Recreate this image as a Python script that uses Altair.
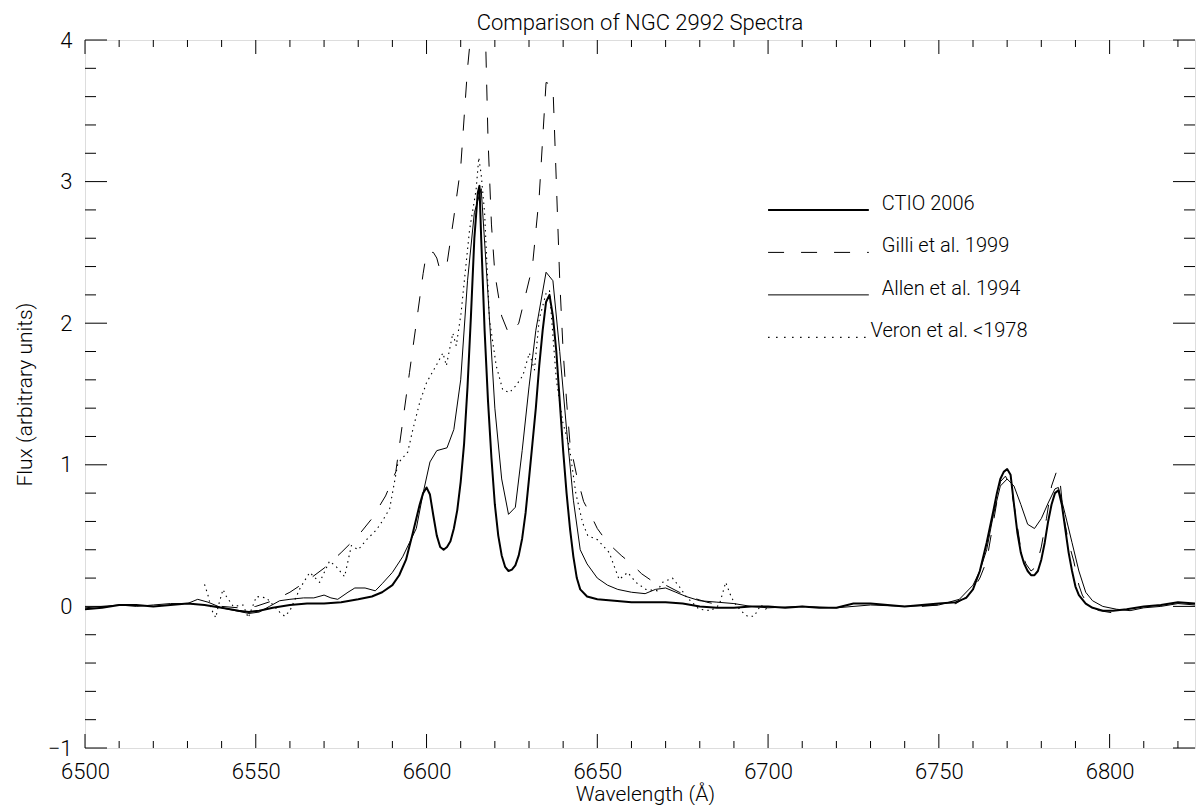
import altair as alt
import pandas as pd

# ---------------- data ----------------
ctio_wl = [6500, 6505, 6510, 6515, 6520, 6525, 6530, 6535, 6540, 6545, 6548, 6551, 6555, 6560, 6565,
           6570, 6575, 6580, 6584, 6587, 6590, 6592, 6594, 6596, 6598, 6599, 6600, 6601, 6602, 6603,
           6604, 6605, 6606, 6607, 6608, 6609, 6610, 6611, 6612, 6613, 6614, 6615, 6615.5, 6616, 6617,
           6618, 6619, 6620, 6621, 6622, 6623, 6624, 6625, 6626, 6627, 6628, 6629, 6630, 6631, 6632,
           6633, 6634, 6635, 6636, 6637, 6638, 6639, 6640, 6641, 6642, 6643, 6644, 6645, 6647, 6650,
           6655, 6660, 6665, 6670, 6675, 6680, 6685, 6690, 6695, 6700, 6705, 6710, 6715, 6720, 6725,
           6730, 6735, 6740, 6745, 6750, 6755, 6758, 6760, 6762, 6764, 6766, 6767, 6768, 6769, 6770,
           6771, 6772, 6773, 6774, 6775, 6776, 6777, 6778, 6779, 6780, 6781, 6782, 6783, 6784, 6785,
           6786, 6787, 6788, 6789, 6790, 6791, 6793, 6795, 6798, 6801, 6805, 6810, 6815, 6820, 6825]
ctio_flux = [-0.02, -0.01, 0.01, 0.01, 0.0, 0.01, 0.02, 0.01, -0.01, -0.03, -0.04, -0.03, -0.01, 0.01, 0.02,
             0.02, 0.03, 0.05, 0.07, 0.10, 0.15, 0.22, 0.33, 0.52, 0.72, 0.80, 0.84, 0.79, 0.64, 0.50,
             0.42, 0.40, 0.42, 0.46, 0.55, 0.68, 0.88, 1.15, 1.55, 2.05, 2.60, 2.92, 2.97, 2.60, 1.95,
             1.45, 1.05, 0.72, 0.50, 0.36, 0.28, 0.25, 0.26, 0.29, 0.36, 0.48, 0.66, 0.90, 1.15, 1.40,
             1.70, 1.95, 2.15, 2.20, 2.05, 1.80, 1.45, 1.10, 0.80, 0.55, 0.35, 0.20, 0.12, 0.07, 0.05,
             0.04, 0.03, 0.03, 0.03, 0.02, 0.0, -0.01, -0.01, 0.0, 0.0, -0.01, 0.0, -0.01, -0.01, 0.02,
             0.02, 0.01, 0.0, 0.01, 0.02, 0.03, 0.06, 0.12, 0.25, 0.45, 0.68, 0.80, 0.90, 0.95, 0.97,
             0.93, 0.72, 0.52, 0.38, 0.30, 0.25, 0.22, 0.22, 0.25, 0.33, 0.45, 0.60, 0.72, 0.80, 0.82,
             0.72, 0.55, 0.38, 0.25, 0.14, 0.08, 0.02, -0.01, -0.03, -0.03, -0.02, 0.0, 0.01, 0.03, 0.02]

gilli_wl = [6540, 6545, 6550, 6555, 6560, 6565, 6570, 6575, 6580, 6584, 6588, 6591, 6593, 6595, 6597,
            6599, 6600, 6602, 6603, 6604, 6606, 6608, 6610, 6612, 6614, 6617, 6618, 6619, 6620, 6622,
            6624, 6625, 6627, 6629, 6631, 6633, 6634, 6635, 6637, 6638, 6639, 6640, 6641, 6642, 6644,
            6646, 6648, 6650, 6653, 6657, 6660, 6663, 6666, 6670, 6674, 6678, 6682, 6684,
            6745, 6750, 6755, 6759, 6762, 6764, 6766, 6768, 6769.5, 6771, 6772.5, 6774, 6775.5, 6777,
            6778.5, 6780, 6781.5, 6783, 6784.5, 6785.5, 6786.5, 6788, 6789.5, 6791, 6792, 6794, 6797, 6802]
gilli_flux = [0.0, -0.01, 0.0, 0.04, 0.10, 0.18, 0.27, 0.38, 0.50, 0.62, 0.78, 0.95, 1.30, 1.65, 2.00,
              2.35, 2.50, 2.50, 2.46, 2.37, 2.42, 2.75, 3.10, 3.80, 4.30, 4.30, 3.30, 2.70, 2.35, 2.05,
              1.93, 1.93, 2.00, 2.20, 2.40, 2.90, 3.30, 3.70, 3.68, 3.00, 2.30, 1.80, 1.45, 1.15, 0.92,
              0.74, 0.65, 0.55, 0.45, 0.36, 0.30, 0.23, 0.18, 0.15, 0.10, 0.06, 0.03, 0.02,
              0.0, 0.01, 0.02, 0.08, 0.20, 0.32, 0.60, 0.88, 0.92, 0.85, 0.65, 0.40, 0.30, 0.25,
              0.28, 0.42, 0.62, 0.85, 0.955, 0.88, 0.64, 0.45, 0.32, 0.15, 0.08, 0.0, -0.03, -0.05]
gilli_seg = [1] * 58 + [2] * 28

allen_wl = [6500, 6505, 6510, 6515, 6520, 6525, 6530, 6533, 6536, 6540, 6544, 6548, 6551, 6554, 6557,
            6560, 6564, 6567, 6570, 6572, 6574, 6577, 6579, 6582, 6585, 6587, 6590, 6593, 6595, 6597,
            6599, 6601, 6603, 6606, 6608, 6610, 6612, 6614, 6616, 6618, 6620, 6622, 6624, 6626, 6628,
            6630, 6632, 6635, 6637, 6639, 6641, 6643, 6645, 6647, 6650, 6653, 6656, 6660, 6664, 6667,
            6670, 6673, 6676, 6680, 6685, 6690, 6695, 6700, 6710, 6720, 6730, 6740, 6750, 6756, 6760,
            6762, 6764, 6766, 6768, 6770, 6772, 6774, 6776, 6778, 6780, 6782, 6784, 6785, 6787, 6789,
            6791, 6793, 6795, 6798, 6802, 6806, 6810, 6815, 6820, 6825]
allen_flux = [-0.01, 0.0, 0.01, 0.0, 0.01, 0.02, 0.02, 0.05, 0.03, -0.01, -0.03, -0.05, -0.04, 0.0, 0.04,
              0.05, 0.06, 0.06, 0.08, 0.06, 0.05, 0.10, 0.13, 0.13, 0.11, 0.16, 0.24, 0.35, 0.45, 0.55,
              0.80, 1.02, 1.10, 1.12, 1.25, 1.60, 2.30, 2.78, 2.95, 2.20, 1.40, 0.90, 0.65, 0.70, 1.10,
              1.55, 1.95, 2.36, 2.30, 1.80, 1.25, 0.75, 0.40, 0.30, 0.20, 0.15, 0.12, 0.10, 0.09, 0.12,
              0.13, 0.10, 0.07, 0.04, 0.03, 0.02, 0.0, -0.01, 0.0, -0.01, 0.01, 0.0, 0.01, 0.05, 0.15,
              0.25, 0.40, 0.65, 0.85, 0.90, 0.85, 0.72, 0.58, 0.55, 0.62, 0.73, 0.83, 0.84, 0.65, 0.45,
              0.25, 0.10, 0.04, 0.0, -0.02, -0.03, -0.01, 0.0, 0.02, 0.01]

veron_wl = [6535, 6536, 6537, 6538.3, 6539, 6540.4, 6541.4, 6543.4, 6546.3, 6547.8, 6550.2, 6553.1, 6557,
            6558.5, 6560, 6563, 6565.8, 6568.7, 6571.6, 6573.6, 6576, 6578, 6580, 6582.4, 6585.3, 6587,
            6589.2, 6591.6, 6594.5, 6596, 6598, 6600, 6602.8, 6604.8, 6605.8, 6607.7, 6608.7, 6610.1,
            6612.6, 6614.5, 6615.3, 6616, 6617, 6618.4, 6620.4, 6622.3, 6624.3, 6626.2, 6628.2, 6630.1,
            6631.6, 6633, 6635, 6636, 6638, 6639.9, 6641.8, 6643.7, 6645.7, 6647.2, 6650.1, 6653.5, 6655,
            6656.4, 6658.9, 6661.3, 6664.2, 6667.6, 6669.1, 6672, 6674, 6676, 6679.8, 6683.2, 6685.7,
            6687.6, 6689, 6690, 6692, 6694, 6695.9, 6697.9, 6699.3, 6700]
veron_flux = [0.155, 0.08, -0.02, -0.08, 0.0, 0.12, 0.07, 0.0, 0.01, -0.08, 0.07, 0.06, -0.04,
              -0.07, -0.03, 0.13, 0.24, 0.17, 0.32, 0.28, 0.21, 0.43, 0.40, 0.47, 0.54, 0.60,
              0.69, 1.01, 1.09, 1.25, 1.44, 1.58, 1.70, 1.79, 1.70, 1.93, 1.84, 2.07,
              2.66, 2.94, 3.17, 3.05, 2.78, 2.03, 1.70, 1.53, 1.51, 1.56, 1.63, 1.79,
              1.67, 2.03, 2.21, 2.23, 1.60, 1.30, 1.13, 0.80, 0.59, 0.50, 0.47, 0.38, 0.28,
              0.19, 0.24, 0.17, 0.12, 0.11, 0.17, 0.20, 0.14, 0.07, -0.02, -0.03, 0.01,
              0.17, 0.08, 0.03, -0.03, -0.07, -0.07, 0.01, -0.02, 0.0]

legend_labels = ["CTIO 2006", "Gilli et al. 1999", "Allen et al. 1994", "Veron et al. <1978"]
legend_y = [2.8, 2.5, 2.2, 1.9]
legend_x1 = [6700, 6700, 6700, 6700]
legend_x2 = [6729.5, 6729.5, 6729.5, 6729.5]
legend_tx = [6733.3, 6733.3, 6733.3, 6730.0]

x_label_values = [6500, 6550, 6600, 6650, 6700, 6750, 6800]
y_label_values = [-1, 0, 1, 2, 3, 4]
x_minor_values = [v for v in range(6510, 6830, 10) if v % 50 != 0]
y_minor_values = [round(-1 + 0.2 * i, 1) for i in range(26) if i % 5 != 0]

# ---------------- layout ----------------
W, H = 1110, 708
FONT = "Roboto"
FW = 300
XS = alt.Scale(domain=[6500, 6825], nice=False, zero=False)
YS = alt.Scale(domain=[-1, 4], nice=False, zero=False)

AX = alt.Axis(
    values=x_label_values, format="d", ticks=False, tickSize=0, domain=False, grid=False,
    labelFlush=False, labelOverlap=False, labelPadding=13, labelFontSize=22, labelFont=FONT,
    labelFontWeight=FW, labelColor="black",
    title="Wavelength (Å)", titleX=560, titleY=52, titleFontSize=21, titleFont=FONT,
    titleFontWeight=FW, titleColor="black", titleBaseline="alphabetic", titleAlign="center")
AY = alt.Axis(
    values=y_label_values, ticks=False, tickSize=0, domain=False, grid=False,
    labelOverlap=False, labelPadding=13, labelFontSize=22, labelFont=FONT, labelFontWeight=FW,
    labelColor="black", labelExpr="datum.value < 0 ? '\u2212' + abs(datum.value) : datum.label",
    title="Flux (arbitrary units)", titleX=-60, titleY=H / 2, titleAngle=270,
    titleFontSize=21, titleFont=FONT, titleFontWeight=FW, titleColor="black",
    titleBaseline="middle", titleAlign="center")


def spectrum(wl, flux, width, dash=None, seg=None):
    df = pd.DataFrame({"wl": wl, "flux": flux, "seg": seg if seg is not None else [1] * len(wl)})
    kw = dict(clip=True, color="black", strokeWidth=width, strokeJoin="round")
    if dash:
        kw["strokeDash"] = dash
    return alt.Chart(df).mark_line(**kw).encode(
        x=alt.X("wl:Q", scale=XS, axis=AX),
        y=alt.Y("flux:Q", scale=YS, axis=AY),
        detail="seg:N",
    )


leg_df = pd.DataFrame({"label": legend_labels, "y": legend_y, "x1": legend_x1,
                       "x2": legend_x2, "tx": legend_tx})


def legend_sample(i, width, dash=None):
    kw = dict(color="black", strokeWidth=width)
    if dash:
        kw["strokeDash"] = dash
    return alt.Chart(leg_df.iloc[[i]]).mark_rule(**kw).encode(
        x=alt.X("x1:Q", scale=XS, axis=AX), x2="x2:Q",
        y=alt.Y("y:Q", scale=YS, axis=AY))


legend_text = alt.Chart(leg_df).mark_text(
    align="left", baseline="alphabetic", font=FONT, fontWeight=FW, fontSize=20, color="black"
).encode(x=alt.X("tx:Q", scale=XS, axis=AX), y=alt.Y("y:Q", scale=YS, axis=AY), text="label:N")


def xticks(values, length):
    df = pd.DataFrame({"v": values})
    bottom = alt.Chart(df).mark_rule(color="black", strokeWidth=1).encode(
        x=alt.X("v:Q", scale=XS, axis=AX), y=alt.value(H), y2=alt.value(H - length))
    top = alt.Chart(df).mark_rule(color="black", strokeWidth=1).encode(
        x=alt.X("v:Q", scale=XS, axis=AX), y=alt.value(0), y2=alt.value(length))
    return [bottom, top]


def yticks(values, length):
    df = pd.DataFrame({"v": values})
    left = alt.Chart(df).mark_rule(color="black", strokeWidth=1).encode(
        y=alt.Y("v:Q", scale=YS, axis=AY), x=alt.value(0), x2=alt.value(length))
    right = alt.Chart(df).mark_rule(color="black", strokeWidth=1).encode(
        y=alt.Y("v:Q", scale=YS, axis=AY), x=alt.value(W), x2=alt.value(W - length))
    return [left, right]


layers = [
    spectrum(veron_wl, veron_flux, 1.1, [1.5, 4]),
    spectrum(gilli_wl, gilli_flux, 1, [16, 17], gilli_seg),
    spectrum(allen_wl, allen_flux, 1),
    spectrum(ctio_wl, ctio_flux, 2),
]
layers += xticks(x_label_values, 14) + xticks(x_minor_values, 7)
layers += yticks(y_label_values, 22) + yticks(y_minor_values, 11)
layers += [
    legend_sample(0, 2),
    legend_sample(1, 1, [16, 17]),
    legend_sample(2, 1),
    legend_sample(3, 1.1, [1.5, 6.5]),
    legend_text,
]

chart = alt.layer(*layers).properties(
    width=W, height=H,
    title=alt.TitleParams("Comparison of NGC 2992 Spectra", fontSize=22, font=FONT, fontWeight=FW,
                          color="black", offset=8, dy=14, anchor="middle"),
    padding={"left": 77, "top": 32, "right": 1, "bottom": 57},
    autosize=alt.AutoSizeParams(type="none"),
).configure_view(stroke="black", strokeWidth=1).configure(background="white")

chart.save("out.html", embed_options={"renderer": "svg", "actions": False})
